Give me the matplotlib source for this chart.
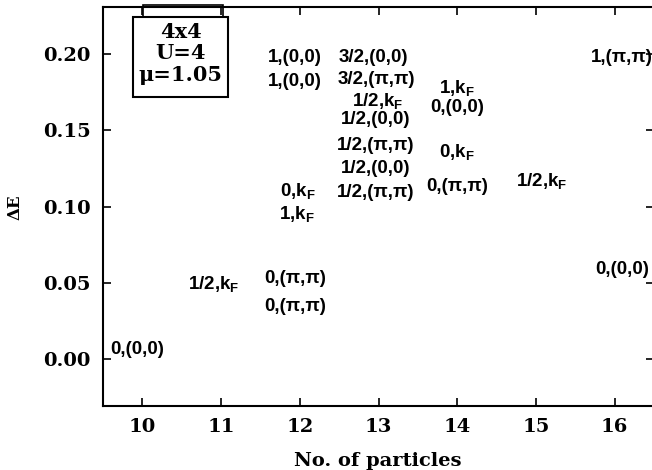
import matplotlib
matplotlib.use("Agg")
import matplotlib.pyplot as plt
from matplotlib.patches import Rectangle

plt.rcParams['mathtext.fontset'] = 'custom'
plt.rcParams['mathtext.rm'] = 'Liberation Sans:bold'
plt.rcParams['mathtext.it'] = 'Liberation Sans:bold'
plt.rcParams['mathtext.bf'] = 'Liberation Sans:bold'

# particle number, gap and (spin, momentum) label of each state
n_particles = [9.93, 10.90, 11.94, 11.94, 11.94, 11.94, 11.98, 11.96,
               12.93, 12.97, 12.99, 12.96, 12.96, 12.96, 12.96,
               14.00, 14.00, 14.00, 14.00, 15.07, 16.09, 16.09]
gaps = [0.006, 0.049, 0.198, 0.182, 0.0526, 0.0343, 0.110, 0.095,
        0.198, 0.183, 0.169, 0.157, 0.140, 0.125, 0.109,
        0.178, 0.165, 0.136, 0.113, 0.117, 0.198, 0.059]
labels = ["0,(0,0)", "1/2,$k_F$", "1,(0,0)", "1,(0,0)", "0,(π,π)", "0,(π,π)",
          "0,$k_F$", "1,$k_F$",
          "3/2,(0,0)", "3/2,(π,π)", "1/2,$k_F$", "1/2,(0,0)", "1/2,(π,π)",
          "1/2,(0,0)", "1/2,(π,π)",
          "1,$k_F$", "0,(0,0)", "0,$k_F$", "0,(π,π)", "1/2,$k_F$",
          "1,(π,π)", "0,(0,0)"]

xticks = [10, 11, 12, 13, 14, 15, 16]
yticks = [0.00, 0.05, 0.10, 0.15, 0.20]

fig = plt.figure(figsize=(6.52, 4.70), dpi=100)
ax = fig.add_axes([103/652, 64/470, 551/652, 399/470])

for x, y, s in zip(n_particles, gaps, labels):
    ax.text(x, y, s, ha='center', va='center', fontsize=13.5,
            family='Liberation Sans', weight='bold')

ax.set_xlim(9.5, 16.5)
ax.set_ylim(-0.0308, 0.2308)
ax.set_xticks(xticks)
ax.set_yticks(yticks)
ax.set_xticklabels([str(t) for t in xticks])
ax.set_yticklabels(["%.2f" % t for t in yticks])
for lab in ax.get_xticklabels() + ax.get_yticklabels():
    lab.set_family('DejaVu Serif')
    lab.set_weight('bold')
    lab.set_fontsize(14)
ax.tick_params(direction='in', length=6, width=1.2, top=True, right=True, pad=9)
for sp in ax.spines.values():
    sp.set_linewidth(1.5)

ax.set_xlabel('No. of particles', family='DejaVu Serif', weight='bold', fontsize=14)
ax.set_ylabel('ΔE', family='DejaVu Serif', weight='bold', fontsize=12)
ax.xaxis.set_label_coords(0.499, -0.115)
ax.yaxis.set_label_coords(-0.145, 0.499)

# parameter box
ax.add_patch(Rectangle((0.073, 0.975), 0.145, 0.03, transform=ax.transAxes,
                       fill=False, lw=1.2, clip_on=False))
ax.add_patch(Rectangle((0.054, 0.774), 0.173, 0.201, transform=ax.transAxes,
                       facecolor='white', edgecolor='black', lw=1.5, zorder=3))
for yy, s in [(0.937, '4x4'), (0.885, 'U=4'), (0.830, 'μ=1.05')]:
    ax.text(0.141, yy, s, transform=ax.transAxes, ha='center', va='center',
            family='DejaVu Serif', weight='bold', fontsize=15, zorder=4)

fig.savefig('out.png', dpi=100)
